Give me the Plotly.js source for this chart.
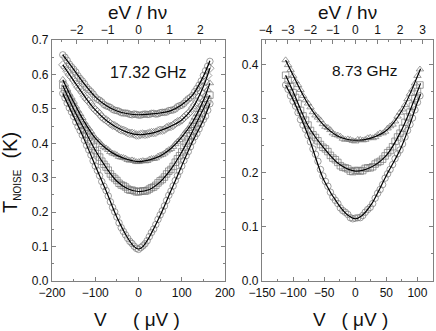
<!DOCTYPE html>
<html>
<head>
<meta charset="utf-8">
<script src="https://cdn.plot.ly/plotly-3.0.1.min.js"></script>
<style>
  html, body { margin: 0; padding: 0; background: #fff; }
  #plot { width: 436px; height: 331px; }
</style>
</head>
<body>
<div id="plot"></div>
<script>
// left panel, 17.32 GHz : measured points (uV, K)
var vLeft = [-175,-165,-155,-145,-135,-125,-115,-105,-95,-85,-75,-65,-55,-45,-35,-25,-15,-5,
             5,15,25,35,45,55,65,75,85,95,105,115,125,135,145,155,165];
var tA = [.657,.641,.622,.607,.588,.573,.556,.543,.528,.520,.509,.504,.496,.493,.488,.487,.483,.484,
          .482,.485,.484,.487,.486,.490,.491,.496,.500,.509,.516,.529,.539,.559,.581,.611,.638];
var tB = [.628,.609,.592,.572,.556,.536,.522,.504,.492,.477,.468,.457,.451,.442,.438,.431,.429,.424,
          .426,.426,.429,.431,.436,.438,.445,.449,.458,.464,.475,.486,.503,.521,.549,.579,.618];
var tC = [.585,.557,.533,.507,.485,.461,.443,.423,.409,.395,.386,.375,.369,.361,.358,.352,.351,.346,
          .348,.348,.353,.355,.362,.367,.377,.384,.398,.410,.427,.442,.463,.485,.512,.539,.575];
var tD = [.568,.541,.516,.487,.465,.439,.417,.391,.370,.348,.331,.311,.298,.284,.277,.267,.264,.259,
          .261,.261,.267,.273,.285,.295,.311,.324,.345,.364,.388,.410,.436,.460,.488,.512,.540];
var tE = [.545,.517,.491,.462,.437,.409,.381,.349,.321,.289,.263,.230,.201,.169,.144,.124,.109,.095,
          .097,.108,.129,.151,.179,.204,.234,.261,.292,.319,.350,.376,.406,.429,.456,.479,.515];

// in-between sweep points
var vLeftMid = [-170,-160,-150,-140,-130,-120,-110,-100,-90,-80,-70,-60,-50,-40,-30,-20,-10,0,
                10,20,30,40,50,60,70,80,90,100,110,120,130,140,150,160];
var tA2 = [.650,.630,.615,.596,.581,.563,.550,.534,.525,.513,.507,.499,.495,.489,.488,.484,.485,.482,
           .484,.484,.487,.485,.489,.490,.495,.497,.506,.511,.523,.533,.550,.569,.597,.624];
var tB2 = [.620,.599,.583,.563,.547,.528,.514,.497,.485,.471,.463,.453,.447,.439,.435,.429,.427,.424,
           .427,.427,.431,.432,.438,.440,.448,.452,.462,.468,.481,.493,.512,.534,.564,.597];
var tC2 = [.572,.544,.521,.495,.474,.451,.434,.415,.403,.389,.381,.371,.366,.359,.356,.350,.349,.346,
           .349,.349,.355,.357,.365,.371,.381,.390,.405,.417,.435,.451,.475,.497,.526,.556];
var tD2 = [.556,.527,.502,.475,.453,.427,.405,.379,.360,.339,.322,.303,.292,.279,.273,.264,.262,.259,
           .262,.263,.271,.278,.291,.302,.319,.333,.355,.375,.400,.422,.449,.473,.501,.526];
var tE2 = [.532,.503,.478,.449,.424,.394,.366,.334,.306,.275,.247,.214,.186,.155,.134,.115,.101,.092,
           .102,.117,.141,.164,.192,.218,.249,.276,.306,.334,.364,.390,.419,.442,.469,.496];

// left panel fits
var fitVL = [-175,-150,-125,-100,-75,-50,-25,0,25,50,75,100,125,150,165];
var fitA = [.657,.615,.572,.535,.51,.494,.486,.483,.485,.488,.495,.512,.54,.595,.64];
var fitB = [.628,.582,.537,.497,.467,.446,.432,.425,.428,.437,.45,.468,.502,.565,.618];
var fitC = [.585,.52,.462,.415,.385,.365,.353,.347,.352,.363,.385,.418,.462,.525,.575];
var fitD = [.568,.5,.44,.38,.33,.29,.268,.26,.266,.288,.325,.375,.435,.5,.54];
var fitVE = [-175,-150,-125,-100,-75,-50,-25,-10,0,10,25,50,75,100,125,150,165];
var fitE = [.545,.478,.41,.335,.262,.185,.125,.1,.093,.1,.128,.19,.262,.335,.405,.468,.515];

// right panel, 8.73 GHz
var vRight = [-112,-104,-96,-88,-80,-72,-64,-56,-48,-40,-32,-24,-16,-8,
              0,8,16,24,32,40,48,56,64,72,80,88,96,104];
var tF = [.408,.390,.369,.353,.334,.321,.306,.297,.285,.279,.270,.267,.261,.261,
          .258,.261,.261,.265,.266,.273,.276,.286,.295,.311,.325,.346,.365,.391];
var tG = [.380,.359,.339,.315,.297,.278,.265,.252,.244,.232,.224,.213,.209,.203,
          .204,.203,.208,.209,.216,.221,.231,.241,.258,.273,.293,.312,.337,.362];
var tH = [.362,.342,.323,.298,.280,.257,.234,.206,.184,.164,.149,.135,.127,.117,
          .116,.117,.127,.136,.153,.169,.190,.206,.226,.242,.266,.289,.316,.342];

var vRightMid = [-108,-100,-92,-84,-76,-68,-60,-52,-44,-36,-28,-20,-12,-4,
                 4,12,20,28,36,44,52,60,68,76,84,92,100];
var tF2 = [.399,.379,.362,.342,.328,.312,.302,.290,.283,.273,.269,.263,.262,.259,
           .261,.260,.264,.264,.270,.273,.282,.289,.304,.317,.336,.354,.379];
var tG2 = [.371,.348,.328,.305,.288,.270,.259,.247,.239,.227,.219,.210,.207,.202,
           .204,.204,.209,.211,.219,.225,.237,.248,.266,.282,.303,.323,.350];
var tH2 = [.354,.332,.311,.288,.269,.244,.221,.194,.175,.155,.143,.130,.123,.115,
           .117,.121,.132,.143,.162,.178,.198,.215,.235,.253,.278,.301,.330];

var fitVR = [-112,-100,-75,-50,-25,0,25,50,75,100,105];
var fitF = [.408,.38,.325,.287,.266,.26,.264,.278,.315,.378,.392];
var fitG = [.38,.35,.285,.245,.215,.203,.21,.232,.28,.35,.365];
var fitVH = [-112,-100,-75,-50,-25,-10,0,10,25,50,75,100,105];
var fitH = [.362,.335,.266,.185,.138,.12,.115,.12,.14,.195,.25,.33,.345];

// hv/e in uV for top axes
var hvLeft = 71.6;
var hvRight = 36.1;

var markGray = '#747474';
function pts(x, y, sym, xa, ya) {
  return {x: x, y: y, type: 'scatter', mode: 'markers', xaxis: xa, yaxis: ya,
    marker: {symbol: sym, size: 6.5, color: markGray, line: {color: markGray, width: 0.7}},
    showlegend: false, hoverinfo: 'skip'};
}
function fit(x, y, xa, ya) {
  return {x: x, y: y, type: 'scatter', mode: 'lines', xaxis: xa, yaxis: ya,
    line: {color: '#000', width: 1.2, shape: 'spline', smoothing: 1},
    showlegend: false, hoverinfo: 'skip'};
}

var data = [
  pts(vLeft.concat(vLeftMid), tA.concat(tA2), 'circle-open', 'x', 'y'),
  pts(vLeft.concat(vLeftMid), tB.concat(tB2), 'diamond-open', 'x', 'y'),
  pts(vLeft.concat(vLeftMid), tC.concat(tC2), 'triangle-up-open', 'x', 'y'),
  pts(vLeft.concat(vLeftMid), tD.concat(tD2), 'square-open', 'x', 'y'),
  pts(vLeft.concat(vLeftMid), tE.concat(tE2), 'circle-open', 'x', 'y'),
  fit(fitVL, fitA, 'x', 'y'),
  fit(fitVL, fitB, 'x', 'y'),
  fit(fitVL, fitC, 'x', 'y'),
  fit(fitVL, fitD, 'x', 'y'),
  fit(fitVE, fitE, 'x', 'y'),
  pts(vRight.concat(vRightMid), tF.concat(tF2), 'triangle-up-open', 'x3', 'y2'),
  pts(vRight.concat(vRightMid), tG.concat(tG2), 'square-open', 'x3', 'y2'),
  pts(vRight.concat(vRightMid), tH.concat(tH2), 'circle-open', 'x3', 'y2'),
  fit(fitVR, fitF, 'x3', 'y2'),
  fit(fitVR, fitG, 'x3', 'y2'),
  fit(fitVH, fitH, 'x3', 'y2'),
  // empty traces so the top axes get drawn
  {x: [], y: [], type: 'scatter', xaxis: 'x2', yaxis: 'y', showlegend: false},
  {x: [], y: [], type: 'scatter', xaxis: 'x4', yaxis: 'y2', showlegend: false}
];

var axColor = '#808080';
var tickFont = {family: 'Liberation Sans, Arial, sans-serif', size: 12, color: '#111'};
function ax(extra) {
  var a = {
    showline: true, linecolor: axColor, linewidth: 1.2, mirror: false,
    ticks: 'inside', ticklen: 4, tickwidth: 1, tickcolor: axColor,
    showgrid: false, zeroline: false, tickfont: tickFont, fixedrange: true
  };
  for (var k in extra) a[k] = extra[k];
  return a;
}
function minor(d) {
  return {ticks: 'inside', ticklen: 2, tickcolor: axColor, dtick: d, showgrid: false};
}

var yDom = [0.151, 0.879];
var txt = {family: 'Liberation Sans, Arial', color: '#111'};
function label(text, x, y, size, extra) {
  var a = {text: text, x: x, y: y, xref: 'paper', yref: 'paper', showarrow: false,
           xanchor: 'center', yanchor: 'middle',
           font: {family: txt.family, color: txt.color, size: size}};
  for (var k in extra) a[k] = extra[k];
  return a;
}

var layout = {
  width: 436, height: 331,
  margin: {l: 0, r: 0, t: 0, b: 0},
  paper_bgcolor: '#fff', plot_bgcolor: '#fff',
  showlegend: false,
  xaxis: ax({domain: [0.1193, 0.5161], range: [-200, 200], dtick: 100, tick0: 0,
             anchor: 'y', minor: minor(50)}),
  xaxis2: ax({domain: [0.1193, 0.5161], range: [-200 / hvLeft, 200 / hvLeft], dtick: 1, tick0: 0,
              overlaying: 'x', anchor: 'y', side: 'top', minor: minor(0.5)}),
  yaxis: ax({domain: yDom, range: [0, 0.7], dtick: 0.1, tickformat: '.1f', anchor: 'x',
             mirror: 'ticks', minor: minor(0.05)}),
  xaxis3: ax({domain: [0.6009, 0.9931], range: [-150, 125], dtick: 50, tick0: 0,
              anchor: 'y2', minor: minor(25)}),
  xaxis4: ax({domain: [0.6009, 0.9931], range: [-150 / hvRight, 125 / hvRight], dtick: 1, tick0: 0,
              overlaying: 'x3', anchor: 'y2', side: 'top', minor: minor(0.5)}),
  yaxis2: ax({domain: yDom, range: [0, 0.445], dtick: 0.1, tickformat: '.1f', anchor: 'x3',
              mirror: 'ticks', minor: minor(0.05)}),
  annotations: [
    label('17.32 GHz', 0.339, 0.7795, 16),
    label('8.73 GHz', 0.835, 0.786, 15.5),
    label('eV / h\u03bd', 0.3165, 0.963, 19),
    label('eV / h\u03bd', 0.796, 0.963, 19),
    label('V &nbsp;&nbsp;&nbsp; ( \u03bcV )', 0.315, 0.036, 19),
    label('V &nbsp; ( \u03bcV )', 0.805, 0.036, 19),
    label('T<sub><span style="font-size:10px">NOISE</span></sub> &nbsp;(K)', 0.025, 0.48, 20,
          {textangle: -90})
  ]
};

Plotly.newPlot('plot', data, layout, {staticPlot: true, displayModeBar: false});
</script>
</body>
</html>
